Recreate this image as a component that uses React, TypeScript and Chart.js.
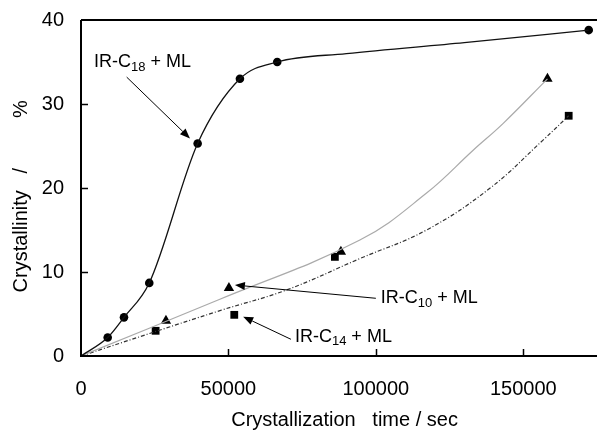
import React, { useEffect, useRef } from "react";
import { Chart, registerables } from "chart.js";

Chart.register(...registerables);

// ---- axes ----
const xTicks = [0, 50000, 100000, 150000];
const yTicks = [0, 10, 20, 30, 40];
const X_MAX = 175000;
const Y_MAX = 40;

// ---- measured points ----
const c18Time = [9050, 14580, 23150, 39560, 53900, 66550, 172200];
const c18Cryst = [2.2, 4.6, 8.7, 25.3, 33.0, 35.0, 38.8];

const c10Time = [28810, 50170, 88140, 158200];
const c10Cryst = [4.2, 8.1, 12.4, 33.0];

const c14Time = [25310, 51980, 86100, 165400];
const c14Cryst = [3.0, 4.9, 11.8, 28.6];

// ---- fitted curves ----
const c18FitTime = [0, 9050, 14580, 23150, 39560, 53900, 66550, 90000, 130000, 172200];
const c18FitCryst = [0, 2.2, 4.6, 8.7, 25.3, 33.0, 35.0, 36.0, 37.3, 38.8];

const c10FitTime = [0, 47100, 94580, 117200, 133000, 143200, 158200];
const c10FitCryst = [0, 6.75, 13.8, 19.4, 24.5, 27.7, 33.0];

const c14FitTime = [0, 47100, 69700, 94580, 117200, 138650, 156700, 165400];
const c14FitCryst = [0, 5.4, 7.86, 11.6, 15.0, 19.96, 25.7, 28.6];

// ---- annotation labels (data units) ----
const annMain = ["IR-C", "IR-C", "IR-C"];
const annSub = ["18", "10", "14"];
const annRest = [" + ML", " + ML", " + ML"];
const annX = [4400, 101700, 72550];
const annY = [35.0, 6.9, 2.3];
const arrowFromX = [15500, 100000, 71200];
const arrowFromY = [33.2, 6.87, 1.99];
const arrowToX = [36950, 52200, 55000];
const arrowToY = [25.9, 8.45, 4.68];

const FONT = "'Liberation Sans', Arial, Helvetica, sans-serif";

const pts = (xs: number[], ys: number[]) => xs.map((x, i) => ({ x, y: ys[i] }));

const overlay = {
  id: "overlay",
  afterDraw(chart: any) {
    const { ctx, chartArea: a, scales } = chart;
    const xs = scales.x;
    const ys = scales.y;
    ctx.save();
    ctx.strokeStyle = "#000";
    ctx.lineWidth = 2;
    ctx.beginPath();
    ctx.moveTo(a.left, a.top);
    ctx.lineTo(a.right, a.top);
    ctx.moveTo(a.left, a.top);
    ctx.lineTo(a.left, a.bottom);
    ctx.lineTo(a.right, a.bottom);
    ctx.stroke();
    ctx.lineWidth = 1.5;
    ctx.beginPath();
    xTicks.slice(1).forEach((v) => {
      const px = Math.round(xs.getPixelForValue(v)) + 0.5;
      ctx.moveTo(px, a.bottom);
      ctx.lineTo(px, a.bottom - 7);
    });
    yTicks.slice(1, -1).forEach((v) => {
      const py = Math.round(ys.getPixelForValue(v)) + 0.5;
      ctx.moveTo(a.left, py);
      ctx.lineTo(a.left + 7, py);
    });
    ctx.stroke();

    // annotations
    ctx.fillStyle = "#000";
    ctx.textBaseline = "middle";
    ctx.textAlign = "left";
    for (let i = 0; i < annMain.length; i++) {
      let x = xs.getPixelForValue(annX[i]);
      const y = ys.getPixelForValue(annY[i]);
      ctx.font = `18px ${FONT}`;
      ctx.fillText(annMain[i], x, y);
      x += ctx.measureText(annMain[i]).width;
      ctx.font = `13px ${FONT}`;
      ctx.fillText(annSub[i], x, y + 5);
      x += ctx.measureText(annSub[i]).width;
      ctx.font = `18px ${FONT}`;
      ctx.fillText(annRest[i], x, y);

      const x1 = xs.getPixelForValue(arrowFromX[i]);
      const y1 = ys.getPixelForValue(arrowFromY[i]);
      const x2 = xs.getPixelForValue(arrowToX[i]);
      const y2 = ys.getPixelForValue(arrowToY[i]);
      const ang = Math.atan2(y2 - y1, x2 - x1);
      const hl = 10;
      const hw = 4;
      const bx = x2 - hl * Math.cos(ang);
      const by = y2 - hl * Math.sin(ang);
      ctx.strokeStyle = "#000";
      ctx.lineWidth = 1;
      ctx.beginPath();
      ctx.moveTo(x1, y1);
      ctx.lineTo(bx, by);
      ctx.stroke();
      ctx.beginPath();
      ctx.moveTo(x2, y2);
      ctx.lineTo(bx + hw * Math.sin(ang), by - hw * Math.cos(ang));
      ctx.lineTo(bx - hw * Math.sin(ang), by + hw * Math.cos(ang));
      ctx.closePath();
      ctx.fill();
    }
    ctx.restore();
  },
};

export default function App() {
  const ref = useRef<HTMLCanvasElement | null>(null);
  useEffect(() => {
    document.body.style.margin = "0";
    const canvas = ref.current;
    if (!canvas) return;
    const tickFont = { family: FONT, size: 20 };
    const chart = new Chart(canvas, {
      type: "scatter",
      data: {
        datasets: [
          {
            data: pts(c18FitTime, c18FitCryst),
            showLine: true,
            borderColor: "#111",
            borderWidth: 1.3,
            pointRadius: 0,
            cubicInterpolationMode: "monotone",
            clip: false,
          } as any,
          {
            data: pts(c10FitTime, c10FitCryst),
            showLine: true,
            borderColor: "#aaaaaa",
            borderWidth: 1.2,
            pointRadius: 0,
            tension: 0.4,
          } as any,
          {
            data: pts(c14FitTime, c14FitCryst),
            showLine: true,
            borderColor: "#333",
            borderWidth: 1.2,
            borderDash: [4, 2, 1, 2],
            pointRadius: 0,
            tension: 0.4,
          } as any,
          {
            data: pts(c18Time, c18Cryst),
            showLine: false,
            pointStyle: "circle",
            pointRadius: 4.3,
            backgroundColor: "#000",
            borderColor: "#000",
            borderWidth: 0,
            clip: false,
          } as any,
          {
            data: pts(c10Time, c10Cryst),
            showLine: false,
            pointStyle: "triangle",
            pointRadius: 6,
            backgroundColor: "#000",
            borderColor: "#000",
            borderWidth: 0,
          } as any,
          {
            data: pts(c14Time, c14Cryst),
            showLine: false,
            pointStyle: "rect",
            pointRadius: 5.5,
            backgroundColor: "#000",
            borderColor: "#000",
            borderWidth: 0,
          } as any,
        ],
      },
      options: {
        animation: false,
        responsive: false,
        maintainAspectRatio: false,
        layout: { padding: { left: 0, right: 6, top: 20, bottom: 0 } },
        plugins: { legend: { display: false }, tooltip: { enabled: false } },
        scales: {
          x: {
            type: "linear",
            min: 0,
            max: X_MAX,
            afterBuildTicks: (s: any) => {
              s.ticks = xTicks.map((v) => ({ value: v }));
            },
            afterFit: (s: any) => {
              s.height = 78;
              s.paddingLeft = 0;
              s.paddingRight = 0;
            },
            grid: { display: false, drawTicks: false },
            border: { display: false },
            ticks: {
              padding: 21,
              maxRotation: 0,
              autoSkip: false,
              color: "#000",
              font: tickFont,
              callback: (v: any) => String(v),
            },
            title: {
              display: true,
              text: "  Crystallization   time / sec",
              color: "#000",
              font: tickFont,
              padding: { top: 0, bottom: 2 },
            },
          },
          y: {
            type: "linear",
            min: 0,
            max: Y_MAX,
            afterBuildTicks: (s: any) => {
              s.ticks = yTicks.map((v) => ({ value: v }));
            },
            afterFit: (s: any) => {
              s.width = 81;
              s.paddingTop = 0;
              s.paddingBottom = 0;
            },
            grid: { display: false, drawTicks: false },
            border: { display: false },
            ticks: {
              padding: 17,
              autoSkip: false,
              color: "#000",
              font: tickFont,
              callback: (v: any) => String(v),
            },
            title: {
              display: true,
              text: "Crystallinity   /         %   ",
              color: "#000",
              font: tickFont,
              padding: { top: 9, bottom: 0 },
            },
          },
        },
      },
      plugins: [overlay],
    } as any);
    return () => chart.destroy();
  }, []);
  return (
    <div style={{ width: 603, height: 434 }}>
      <canvas ref={ref} width={603} height={434} style={{ display: "block" }} />
    </div>
  );
}
